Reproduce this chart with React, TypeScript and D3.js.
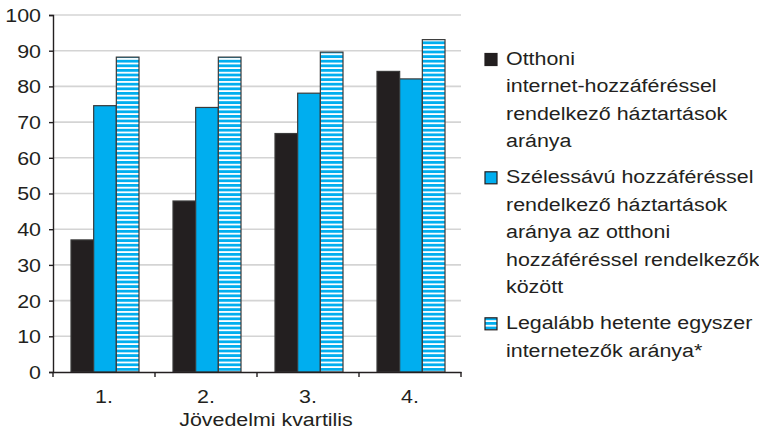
import React, { useEffect, useRef } from 'react';
import * as d3 from 'd3';

// income quartiles and the three series (percent)
const quartiles = ['1.', '2.', '3.', '4.'];
const homeInternet = [37.0, 47.9, 66.8, 84.2];
const broadband = [74.6, 74.1, 78.1, 82.1];
const weeklyUsers = [88.2, 88.2, 89.6, 93.1];
const yTicks = [0, 10, 20, 30, 40, 50, 60, 70, 80, 90, 100];

const seriesNames = ['home', 'broad', 'weekly'];
const legendLines = [
  ['Otthoni', 'internet-hozzáféréssel', 'rendelkező háztartások', 'aránya'],
  ['Szélessávú hozzáféréssel', 'rendelkező háztartások', 'aránya az otthoni', 'hozzáféréssel rendelkezők', 'között'],
  ['Legalább hetente egyszer', 'internetezők aránya*'],
];
const xTitle = 'Jövedelmi kvartilis';

const INK = '#231f20';
const BLUE = '#00aeef';
const FONT = '"Liberation Sans", Arial, sans-serif';
const FS = 18;
const SX = 1.19; // the original type is a bit wider than Arial

export default function App() {
  const svgRef = useRef<SVGSVGElement | null>(null);

  useEffect(() => {
    document.body.style.margin = '0';
    const svg = d3.select(svgRef.current);
    svg.selectAll('*').remove();

    const left = 53, right = 461, top = 15, bottom = 372;

    const defs = svg.append('defs');
    const pat = defs.append('pattern')
      .attr('id', 'stripes')
      .attr('patternUnits', 'userSpaceOnUse')
      .attr('width', 10)
      .attr('height', 4.6);
    pat.append('rect').attr('width', 10).attr('height', 4.6).attr('fill', '#fff');
    pat.append('rect').attr('y', 0).attr('width', 10).attr('height', 2.8).attr('fill', BLUE);

    const x = d3.scaleBand().domain(quartiles).range([left, right]).paddingInner(0).paddingOuter(0);
    const inner = d3.scaleBand().domain(seriesNames).range([18, x.bandwidth() - 16]);
    const y = d3.scaleLinear().domain([0, 100]).range([bottom, top]);

    // gridlines
    svg.append('g')
      .selectAll('line')
      .data(yTicks.filter((t) => t > 0))
      .join('line')
      .attr('x1', left)
      .attr('x2', right)
      .attr('y1', (d) => y(d))
      .attr('y2', (d) => y(d))
      .attr('stroke', '#d4d4d4')
      .attr('stroke-width', 1.6);

    // bars
    const rows = quartiles.map((q, i) => ({ q, vals: [homeInternet[i], broadband[i], weeklyUsers[i]] }));
    const fills = [INK, BLUE, 'url(#stripes)'];
    const groups = svg.append('g')
      .selectAll('g')
      .data(rows)
      .join('g')
      .attr('transform', (d) => 'translate(' + x(d.q) + ',0)');
    groups.selectAll('rect')
      .data((d) => d.vals.map((v, j) => ({ v, j })))
      .join('rect')
      .attr('x', (d) => inner(seriesNames[d.j])!)
      .attr('width', inner.bandwidth())
      .attr('y', (d) => y(d.v))
      .attr('height', (d) => y(0) - y(d.v))
      .attr('fill', (d) => fills[d.j])
      .attr('stroke', '#3a3a3a')
      .attr('stroke-width', 1.2);

    // y axis
    const yAxis = svg.append('g')
      .attr('transform', 'translate(' + left + ',0)')
      .call(d3.axisLeft(y).tickValues(yTicks).tickSize(4).tickFormat(d3.format('d')));
    yAxis.select('.domain').attr('stroke', INK).attr('stroke-width', 1.4);
    yAxis.selectAll('.tick line').attr('stroke', INK).attr('stroke-width', 1.4);
    yAxis.selectAll('text')
      .attr('x', -12 / SX)
      .attr('dy', '0.36em')
      .attr('transform', 'scale(' + SX + ',1)')
      .attr('fill', INK)
      .attr('font-size', FS)
      .attr('font-family', FONT);

    // x axis
    const xAxis = svg.append('g')
      .attr('transform', 'translate(0,' + bottom + ')')
      .call(d3.axisBottom(x).tickSize(0));
    xAxis.select('.domain').attr('stroke', INK).attr('stroke-width', 1.4);
    xAxis.selectAll('text')
      .attr('y', 31)
      .attr('dy', 0)
      .attr('transform', 'scale(' + SX + ',1)')
      .attr('fill', INK)
      .attr('font-size', FS)
      .attr('font-family', FONT);
    svg.append('g')
      .selectAll('line')
      .data(d3.range(quartiles.length + 1))
      .join('line')
      .attr('x1', (d) => left + d * x.step())
      .attr('x2', (d) => left + d * x.step())
      .attr('y1', bottom)
      .attr('y2', bottom + 5)
      .attr('stroke', INK)
      .attr('stroke-width', 1.4);

    svg.append('text')
      .attr('transform', 'translate(266,426) scale(' + SX + ',1)')
      .attr('text-anchor', 'middle')
      .attr('fill', INK)
      .attr('font-size', FS)
      .attr('font-family', FONT)
      .text(xTitle);

    // legend
    const lineH = 27.4;
    const starts = [65, 183.3, 329.3];
    legendLines.forEach((lines, i) => {
      const g = svg.append('g');
      g.append('rect')
        .attr('x', 485)
        .attr('y', starts[i] - 11.5)
        .attr('width', 12)
        .attr('height', 12)
        .attr('fill', fills[i])
        .attr('stroke', INK)
        .attr('stroke-width', 1.2);
      lines.forEach((t, k) => {
        g.append('text')
          .attr('transform', 'translate(506,' + (starts[i] + k * lineH) + ') scale(' + SX + ',1)')
          .attr('fill', INK)
          .attr('font-size', FS)
          .attr('font-family', FONT)
          .text(t);
      });
    });
  }, []);

  return <svg ref={svgRef} width={759} height={431} style={{ display: 'block', background: '#fff' }} />;
}
